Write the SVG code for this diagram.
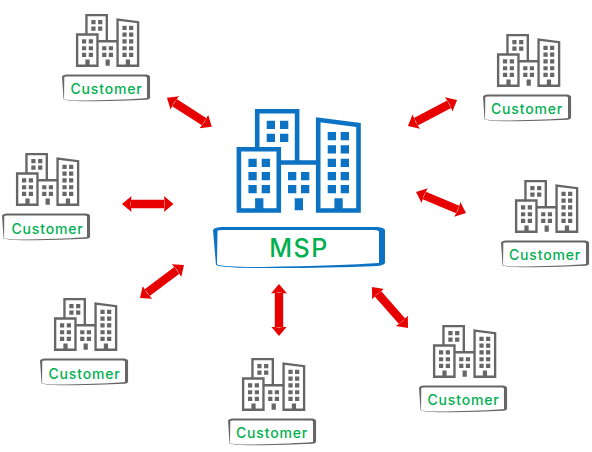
<svg xmlns="http://www.w3.org/2000/svg" xmlns:xlink="http://www.w3.org/1999/xlink" width="592" height="452" viewBox="0 0 592 452">
<style>
.w{fill:currentColor;stroke:none}
.o{fill:none;stroke:currentColor;stroke-width:4.6}
.c{color:#666}
.t{font-family:Inter,"Liberation Sans",sans-serif;fill:#00b050;text-anchor:middle}
.ct{font-size:14px;font-weight:500;letter-spacing:.85px}
.a{stroke:#e60000;stroke-width:8.4;fill:none;marker-start:url(#h);marker-end:url(#h)}
</style>
<defs>
<marker id="h" markerUnits="userSpaceOnUse" markerWidth="12" markerHeight="20" viewBox="0 -10 12 20" refX="0.5" refY="0" orient="auto-start-reverse"><path d="M0 -8L9.5 0L0 8L1 0Z" fill="#e60000"/></marker>
<g id="b">
<path class="o" d="M2.2 101.5V40.2H42.1V101.5ZM20.5 40V2.2H60.4V53.5M42.1 53.5H81.5M81.5 101.5V10.8L121.8 16V101.5Z"/>
<path class="w" d="M30 11.7h8.3v8.3h-8.3zM43.3 11.7h8.3v8.3h-8.3zM30 24.7h8.3v8.3h-8.3zM43.3 24.7h8.3v8.3h-8.3zM11.7 49.7h8.3v8.3h-8.3zM25 49.7h8.3v8.3h-8.3zM11.7 63h8.3v8.3h-8.3zM25 63h8.3v8.3h-8.3zM11.7 76h8.3v8.3h-8.3zM25 76h8.3v8.3h-8.3zM51.3 63h8.3v8.3h-8.3zM64.3 63h8.3v8.3h-8.3zM51.3 76h8.3v8.3h-8.3zM64.3 76h8.3v8.3h-8.3zM91 23h8.3v8.3h-8.3zM104 23h8.3v8.3h-8.3zM91 36.3h8.3v8.3h-8.3zM104 36.3h8.3v8.3h-8.3zM91 49.7h8.3v8.3h-8.3zM104 49.7h8.3v8.3h-8.3zM91 63h8.3v8.3h-8.3zM104 63h8.3v8.3h-8.3zM91 76h8.3v8.3h-8.3zM104 76h8.3v8.3h-8.3zM18.4 89.3h8.3v12h-8.3zM58 89.3h8.3v12h-8.3zM97.7 89.3h8.3v12h-8.3z"/>
</g>
<path id="f" class="w" fill-rule="evenodd" d="M0 3Q1 .5 8 0H165Q171 .5 172 3V36Q171 38 165 39Q100 41.5 50 41Q10 41 3 38ZM4.5 4Q5 3 10 3H161Q166 3 166 5V36Q130 38.5 50 40Q10 40 4 37.5Z"/>
<g id="cust" class="c">
<use xlink:href="#b" href="#b" transform="translate(14 -60.5) scale(.51)"/>
<use xlink:href="#f" href="#f" transform="scale(.512 .65)"/>
</g>
</defs>
<g id="connectors">
<line class="a" x1="174.5" y1="102.6" x2="204.2" y2="121.8"/>
<line class="a" x1="131" y1="204" x2="164.5" y2="204"/>
<line class="a" x1="147.2" y1="292.6" x2="176.8" y2="270.4"/>
<line class="a" x1="279" y1="293" x2="279" y2="327"/>
<line class="a" x1="377.9" y1="293.8" x2="402.1" y2="321.2"/>
<line class="a" x1="424.3" y1="195.5" x2="457.7" y2="209.5"/>
<line class="a" x1="415.9" y1="121.8" x2="449.1" y2="104.2"/>
</g>
<g id="msp" style="color:#0b72c4">
<use xlink:href="#b" href="#b" transform="translate(236.7 109)"/>
<use xlink:href="#f" href="#f" transform="translate(213 227)"/>
<text class="t" x="299" y="257" font-size="25" font-weight="500" letter-spacing="1.5">MSP</text>
</g>
<g id="customer-1"><use xlink:href="#cust" href="#cust" transform="translate(62 74.5)"/><text class="t ct" x="106.500" y="94">Customer</text></g>
<g id="customer-2"><use xlink:href="#cust" href="#cust" transform="translate(483 94.5)"/><text class="t ct" x="527" y="113.500">Customer</text></g>
<g id="customer-3"><use xlink:href="#cust" href="#cust" transform="translate(2 213.5)"/><text class="t ct" x="47.500" y="234">Customer</text></g>
<g id="customer-4"><use xlink:href="#cust" href="#cust" transform="translate(501 240.5)"/><text class="t ct" x="545" y="260">Customer</text></g>
<g id="customer-5"><use xlink:href="#cust" href="#cust" transform="translate(40 358.5)"/><text class="t ct" x="84.500" y="379">Customer</text></g>
<g id="customer-6"><use xlink:href="#cust" href="#cust" transform="translate(228 418.5)"/><text class="t ct" x="272" y="438">Customer</text></g>
<g id="customer-7"><use xlink:href="#cust" href="#cust" transform="translate(419 385.5)"/><text class="t ct" x="463.500" y="405">Customer</text></g>
</svg>
